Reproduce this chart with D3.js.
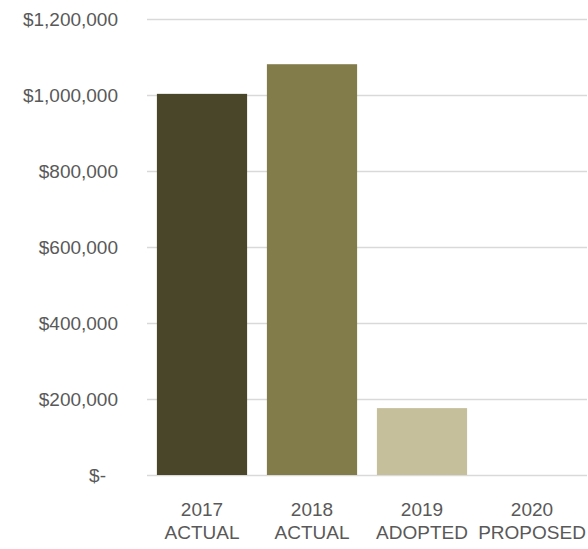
<!DOCTYPE html>
<html>
<head>
<meta charset="utf-8">
<script src="https://cdn.jsdelivr.net/npm/d3@7/dist/d3.min.js"></script>
<style>
  html, body { margin: 0; padding: 0; background: #fff; }
  svg { display: block; }
  text { font-family: "Liberation Sans", Arial, sans-serif; fill: #595959; }
</style>
</head>
<body>
<svg id="chart" width="588" height="549"></svg>
<script>
// Budget by fiscal year
const years = ["2017", "2018", "2019", "2020"];
const stages = ["ACTUAL", "ACTUAL", "ADOPTED", "PROPOSED"];
const amounts = [1003000, 1081000, 176000, 0];
const barColors = ["#4a4629", "#827b4a", "#c5c09b", "#c5c09b"];
const yTicks = [0, 200000, 400000, 600000, 800000, 1000000, 1200000];

const W = 588, H = 549;
const margin = { top: 19, right: 1, bottom: 74, left: 147 };

const svg = d3.select("#chart");

const x = d3.scaleBand()
  .domain(years)
  .range([margin.left, W - margin.right])
  .paddingInner(0.18)
  .paddingOuter(0.09);

const y = d3.scaleLinear()
  .domain([0, 1200000])
  .range([H - margin.bottom, margin.top]);

const fmt = v => v === 0 ? "$-" : "$" + d3.format(",")(v);

// Horizontal gridlines with value labels
const yAxis = svg.append("g")
  .attr("transform", `translate(${margin.left},0)`)
  .call(d3.axisLeft(y).tickValues(yTicks).tickFormat(fmt)
    .tickSize(-(W - margin.left - margin.right)).tickPadding(29));
yAxis.select(".domain").remove();
yAxis.selectAll(".tick line").attr("stroke", "#d9d9d9").attr("stroke-width", 1.3);
yAxis.selectAll(".tick text")
  .attr("font-family", "Liberation Sans, Arial, sans-serif")
  .style("font-size", "19px");
yAxis.selectAll(".tick")
  .filter(d => d === 0)
  .select("text").attr("dx", "-12px");

// Bars
svg.append("g")
  .selectAll("rect")
  .data(years.map((yr, i) => ({ yr, v: amounts[i], c: barColors[i] })))
  .join("rect")
  .attr("x", d => x(d.yr))
  .attr("width", x.bandwidth())
  .attr("y", d => y(d.v))
  .attr("height", d => y(0) - y(d.v))
  .attr("fill", d => d.c);

// Category labels: year on the first line, budget stage below
const xAxis = svg.append("g")
  .attr("transform", `translate(0,${H - margin.bottom})`)
  .call(d3.axisBottom(x).tickSize(0).tickPadding(0).tickFormat(() => ""));
xAxis.select(".domain").remove();
xAxis.selectAll(".tick text").remove();
xAxis.selectAll(".tick").each(function (d, i) {
  const g = d3.select(this);
  [[years[i], 41], [stages[i], 64]].forEach(([label, dy]) => {
    g.append("text")
      .attr("text-anchor", "middle")
      .attr("y", dy)
      .attr("font-family", "Liberation Sans, Arial, sans-serif")
      .style("font-size", "19px")
      .attr("fill", "#595959")
      .text(label);
  });
});
</script>
</body>
</html>
